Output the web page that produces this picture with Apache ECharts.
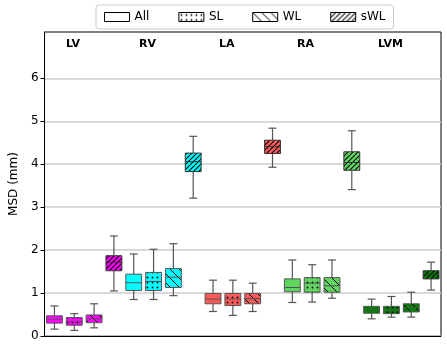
<html>
<head>
  <meta charset="utf-8">
  <title></title>
  <style>
    html, body { margin: 0; padding: 0; background: #fff; }
  </style>
</head>
<body>
  <div id="main" style="width: 447px;height:347px;"></div>
</body>
<script src="https://cdn.jsdelivr.net/npm/echarts@6/dist/echarts.min.js"></script>
<script>
  // regions and training sets
  let regions = ['LV', 'RV', 'LA', 'RA', 'LVM'];
  let models = ['All', 'SL', 'WL', 'sWL'];

  // [min, q1, median, q3, max] per region
  let statsAll = [
    [0.16, 0.30, 0.39, 0.47, 0.70],
    [0.85, 1.06, 1.24, 1.44, 1.91],
    [0.57, 0.75, 0.86, 0.99, 1.30],
    [0.78, 1.03, 1.13, 1.33, 1.77],
    [0.40, 0.53, 0.61, 0.69, 0.86]
  ];
  let statsSL = [
    [0.13, 0.25, 0.33, 0.43, 0.52],
    [0.85, 1.06, 1.27, 1.48, 2.02],
    [0.48, 0.71, 0.86, 0.99, 1.30],
    [0.79, 1.02, 1.23, 1.36, 1.66],
    [0.44, 0.52, 0.60, 0.69, 0.92]
  ];
  let statsWL = [
    [0.19, 0.31, 0.40, 0.49, 0.75],
    [0.94, 1.13, 1.37, 1.57, 2.15],
    [0.57, 0.75, 0.87, 0.99, 1.23],
    [0.88, 1.02, 1.17, 1.36, 1.77],
    [0.44, 0.56, 0.66, 0.75, 1.02]
  ];
  let statsSWL = [
    [1.05, 1.52, 1.72, 1.87, 2.33],
    [3.21, 3.83, 4.06, 4.26, 4.65],
    [3.93, 4.25, 4.41, 4.56, 4.84],
    [3.41, 3.86, 4.04, 4.29, 4.78],
    [1.07, 1.33, 1.43, 1.52, 1.72]
  ];
  let yTicks = [0, 1, 2, 3, 4, 5, 6];

  let allStats = [statsAll, statsSL, statsWL, statsSWL];
  let regionColors = ['#ff00ff', '#00ffff', '#ff5a5a', '#5fd65f', '#008000'];
  let hatches = ['none', 'dots', 'back', 'fwd'];

  // canvas tiles for the hatch fills
  function makePattern(bg, kind) {
    let s = kind == 'dots' ? 5 : kind == 'back' ? 9 : kind == 'fwd' ? 5 : 4;
    let cv = document.createElement('canvas');
    cv.width = s; cv.height = s;
    let ctx = cv.getContext('2d');
    ctx.fillStyle = bg;
    ctx.fillRect(0, 0, s, s);
    ctx.strokeStyle = '#000';
    ctx.fillStyle = '#000';
    if (kind == 'dots') {
      ctx.beginPath();
      ctx.arc(2.5, 2.5, 0.9, 0, Math.PI * 2);
      ctx.fill();
    } else if (kind == 'back') {
      ctx.lineWidth = 1;
      for (let k = -1; k <= 1; k++) {
        ctx.beginPath();
        ctx.moveTo(k * s, 0);
        ctx.lineTo(k * s + s, s);
        ctx.stroke();
      }
    } else if (kind == 'fwd') {
      ctx.lineWidth = 1.1;
      for (let k = -1; k <= 1; k++) {
        ctx.beginPath();
        ctx.moveTo(k * s, s);
        ctx.lineTo(k * s + s, 0);
        ctx.stroke();
      }
    }
    return { image: cv, repeat: 'repeat' };
  }

  let slots = [];
  regions.forEach(r => models.forEach(m => slots.push(r + ' ' + m)));

  function renderBox(params, api) {
    let x = api.value(0);
    let lo = api.coord([x, api.value(1)]);
    let q1 = api.coord([x, api.value(2)]);
    let md = api.coord([x, api.value(3)]);
    let q3 = api.coord([x, api.value(4)]);
    let hi = api.coord([x, api.value(5)]);
    let bw = api.size([1, 0])[0] * 0.8;
    let cx = lo[0];
    let half = bw / 2, cap = bw / 4;
    let m = params.seriesIndex;
    let fill = makePattern(regionColors[api.value(6)], hatches[m]);
    let edge = m == 3 ? '#333' : '#555';
    let ln = { stroke: '#555', lineWidth: 1.2 };
    return {
      type: 'group',
      children: [
        { type: 'line', shape: { x1: cx, y1: lo[1], x2: cx, y2: q1[1] }, style: ln },
        { type: 'line', shape: { x1: cx, y1: q3[1], x2: cx, y2: hi[1] }, style: ln },
        { type: 'line', shape: { x1: cx - cap, y1: lo[1], x2: cx + cap, y2: lo[1] }, style: ln },
        { type: 'line', shape: { x1: cx - cap, y1: hi[1], x2: cx + cap, y2: hi[1] }, style: ln },
        { type: 'rect', shape: { x: cx - half, y: q3[1], width: bw, height: q1[1] - q3[1] },
          style: { fill: fill, stroke: edge, lineWidth: 1 } },
        { type: 'line', shape: { x1: cx - half, y1: md[1], x2: cx + half, y2: md[1] },
          style: { stroke: edge, lineWidth: 1 } }
      ]
    };
  }

  let series = models.map((m, mi) => ({
    name: m,
    type: 'custom',
    renderItem: renderBox,
    encode: { x: 0, y: [1, 2, 3, 4, 5] },
    data: allStats[mi].map((st, ri) => [ri * 4 + mi].concat(st).concat([ri]))
  }));

  let myChart = echarts.init(document.getElementById('main'));

  let option = {
    animation: false,
    textStyle: { fontFamily: 'DejaVu Sans' },
    legend: {
      left: 96,
      top: 5,
      padding: [6, 8],
      itemWidth: 25,
      itemHeight: 9,
      itemGap: 29,
      borderColor: '#cccccc',
      borderWidth: 1,
      borderRadius: 3,
      textStyle: { fontSize: 12, color: '#000' },
      data: models.map((m, mi) => ({
        name: m,
        icon: 'rect',
        itemStyle: { color: makePattern('#ffffff', hatches[mi]), borderColor: '#000', borderWidth: 1 }
      }))
    },
    grid: {
      left: 37, right: 6, top: 32, bottom: 11,
      show: true, borderColor: '#000', borderWidth: 1, backgroundColor: 'transparent'
    },
    xAxis: {
      type: 'category',
      data: slots,
      axisLabel: { show: false },
      axisTick: { show: false },
      axisLine: { lineStyle: { color: '#000' } },
      splitLine: { show: false }
    },
    yAxis: {
      type: 'value',
      min: 0,
      max: 7.08,
      interval: 1,
      name: 'MSD (mm)',
      nameLocation: 'middle',
      nameGap: 24,
      nameTextStyle: { fontSize: 12, color: '#000' },
      axisLine: { show: true, lineStyle: { color: '#000' } },
      axisTick: { show: true, length: 4, customValues: yTicks, lineStyle: { color: '#000' } },
      axisLabel: { fontSize: 12, color: '#000', margin: 6, customValues: yTicks },
      splitLine: {
        show: true,
        lineStyle: {
          color: ['#cccccc', '#cccccc', '#cccccc', '#cccccc', '#cccccc', '#cccccc', '#cccccc', 'transparent', 'transparent'],
          width: 1.5
        }
      }
    },
    graphic: regions.map((r, i) => ({
      type: 'text',
      left: [66, 139, 219, 297, 378][i],
      top: 39,
      style: { text: r, font: 'bold 11px DejaVu Sans', fill: '#000' }
    })),
    series: series
  };

  myChart.setOption(option);
</script>
</html>
